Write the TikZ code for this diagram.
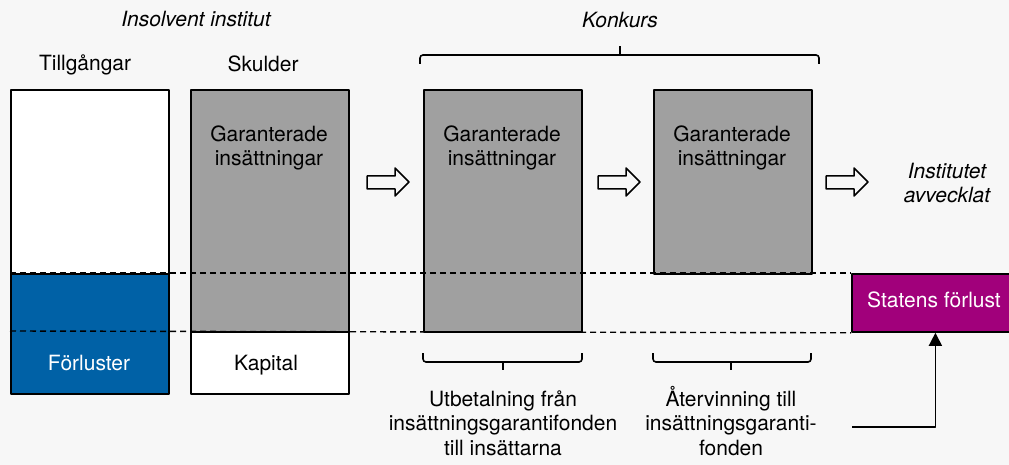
\documentclass[tikz,border=0pt]{standalone}
\usepackage{fontspec}
\setmainfont{TeX Gyre Heros}
\usetikzlibrary{arrows.meta,positioning}
\definecolor{bgcol}{HTML}{F7F7F7}
\definecolor{depgrey}{HTML}{A0A0A0}
\definecolor{lossblue}{HTML}{0061A6}
\definecolor{statepurple}{HTML}{A1007B}
\begin{document}
\begin{tikzpicture}[x=1pt,y=-1pt,>={Triangle[length=13pt,width=13pt]},line join=round,
	font=\fontsize{21}{24.5}\selectfont,
	box/.style={draw,line width=1.8pt,anchor=north west,inner sep=0pt,minimum width=158pt},
	txt/.style={anchor=base,align=center,inner sep=0pt},
	dashline/.style={dashed,dash pattern=on 6pt off 4pt,line width=1.4pt},
	bracket/.style={line width=1.6pt,rounded corners=3pt}]
	\fill[bgcol] (0,0) rectangle (1009,465);
	\useasboundingbox (0,0) rectangle (1009,465);
	% headings
	\node[txt] (insolv) at (196,27) {\itshape Insolvent institut};
	\node[txt] (konk) at (620,28) {\itshape Konkurs};
	\node[txt] (tillg) at (85,71) {Tillgångar};
	\node[txt] (skuld) at (263,72) {Skulder};
	% balance sheet
	\node[box,fill=white,minimum height=184pt] (assets) at (10,89) {};
	\node[box,fill=lossblue,minimum height=120pt] (loss) at (10,273) {};
	\node[txt,text=white] (losstxt) at (89,370) {Förluster};
	\node[box,fill=depgrey,minimum height=242pt] (dep1) at (190,89) {};
	\node[txt] (dep1txt) at (269,166) {Garanterade\\insättningar};
	\node[box,fill=white,minimum height=62pt] (kap) at (190,331) {};
	\node[txt] (kaptxt) at (266,370) {Kapital};
	% bankruptcy
	\node[box,fill=depgrey,minimum height=242pt] (dep2) at (423,89) {};
	\node[txt] (dep2txt) at (502,166) {Garanterade\\insättningar};
	\node[box,fill=depgrey,minimum height=184pt] (dep3) at (653,89) {};
	\node[txt] (dep3txt) at (732,166) {Garanterade\\insättningar};
	\node[txt] (wound) at (947,203) {\itshape Institutet\\\itshape avvecklat};
	\node[box,fill=statepurple,minimum width=167pt,minimum height=58pt] (stat) at (851,273) {};
	\node[txt,text=white] (stattxt) at (934,307) {Statens förlust};
	\draw[dashline] (loss.north west) -- (stat.north west);
	\draw[dashline] (kap.north -| loss.west) -- (stat.south west);
	\foreach \x in {367,598,826}
		\draw[line width=1.5pt,fill=bgcol] (\x,176) -- (\x+28,176) -- (\x+28,168) -- (\x+42,182)
			-- (\x+28,196) -- (\x+28,189) -- (\x,189) -- cycle;
	% braces
	\draw[bracket] (420,64) -- (420,55) -- (819,55) -- (819,64);
	\draw[line width=1.6pt] (620,55) -- (620,46);
	\draw[bracket] (423,353) -- (423,362) -- (582,362) -- (582,353);
	\draw[line width=1.6pt] (503,362) -- (503,370);
	\draw[bracket] (653,353) -- (653,362) -- (811,362) -- (811,353);
	\draw[line width=1.6pt] (731,362) -- (731,370);
	\node[txt] (payout) at (503,455) {Utbetalning från\\insättningsgarantifonden\\till insättarna};
	\node[txt] (recov) at (731,455) {Återvinning till\\insättningsgaranti-\\fonden};
	\coordinate (recend) at (852,427);
	\draw[->,line width=1.6pt] (recend) -| (stat.south);
\end{tikzpicture}
\end{document}
